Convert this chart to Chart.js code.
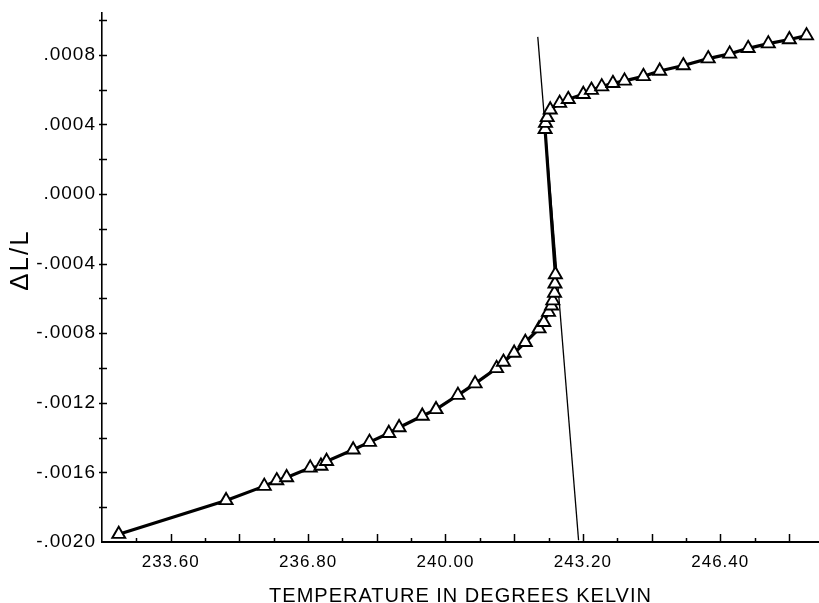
<!DOCTYPE html>
<html>
<head>
<meta charset="utf-8">
<script src="https://cdn.jsdelivr.net/npm/chart.js@4/dist/chart.umd.min.js"></script>
<style>
  html, body { margin: 0; padding: 0; background: #ffffff; }
  #wrap { width: 819px; height: 603px; }
</style>
</head>
<body>
<div id="wrap"><canvas id="c" width="819" height="603"></canvas></div>
<script>
// ---- data ----
const temperature = [
  232.39, 234.89, 235.78, 236.07, 236.30, 236.85, 237.10, 237.23, 237.85, 238.23,
  238.68, 238.92, 239.46, 239.78, 240.29, 240.69, 241.19, 241.35, 241.60, 241.86,
  242.18, 242.29, 242.40, 242.47, 242.50, 242.54, 242.55, 242.56,
  242.32, 242.33, 242.37, 242.44, 242.66, 242.86, 243.21, 243.40, 243.64, 243.90,
  244.17, 244.61, 244.99, 245.54, 246.12, 246.62, 247.05, 247.52, 248.01, 248.41
];
const deltaLoverL = [
  -0.001955, -0.001761, -0.001679, -0.001647, -0.001629, -0.001574, -0.001563, -0.001536, -0.001470, -0.001426,
  -0.001375, -0.001342, -0.001276, -0.001238, -0.001156, -0.001090, -0.001002, -0.000966, -0.000914, -0.000852,
  -0.000774, -0.000737, -0.000679, -0.000642, -0.000613, -0.000569, -0.000516, -0.000463,
  0.000372, 0.000407, 0.000440, 0.000484, 0.000522, 0.000544, 0.000573, 0.000597, 0.000617, 0.000636,
  0.000650, 0.000676, 0.000707, 0.000738, 0.000778, 0.000805, 0.000837, 0.000864, 0.000888, 0.000910
];
// thin guide line crossing the transition
const guideT = [242.15, 243.10];
const guideV = [0.000903, -0.00199];

// axis tick values
const xLabelTicks = [233.60, 236.80, 240.00, 243.20, 246.40];
const yLabelTicks = [-0.0020, -0.0016, -0.0012, -0.0008, -0.0004, 0.0000, 0.0004, 0.0008];
const xTitle = 'TEMPERATURE IN DEGREES KELVIN';
const yTitle = '\u0394L/L';

// ---- chart ----
const xMin = 232.0, xMax = 248.7, xStep = 0.8;
const yMin = -0.0020, yMax = 0.00104, yStep = 0.0002;

function near(a, b) { return Math.abs(a - b) < 1e-7; }

const tickMarks = {
  id: 'tickMarks',
  beforeDraw(chart) { chart.ctx.letterSpacing = '1px'; },
  afterDraw(chart) {
    const { ctx, scales: { x, y } } = chart;
    ctx.save();
    ctx.strokeStyle = '#000';
    ctx.lineWidth = 1.5;
    const yb = y.getPixelForValue(yMin);
    for (let v = xMin + xStep; v < xMax; v += xStep) {
      const k = Math.round((v - xMin) / xStep);
      const val = xMin + k * xStep;
      const px = Math.round(x.getPixelForValue(val)) + 0.5;
      const len = k % 2 === 0 ? 8 : 4;
      ctx.beginPath(); ctx.moveTo(px, yb); ctx.lineTo(px, yb - len); ctx.stroke();
    }
    const xl = x.getPixelForValue(xMin);
    for (let k = 1; yMin + k * yStep <= yMax + 1e-9; k++) {
      const val = yMin + k * yStep;
      const py = Math.round(y.getPixelForValue(val)) + 0.5;
      ctx.beginPath(); ctx.moveTo(xl - 3, py); ctx.lineTo(xl + 5, py); ctx.stroke();
    }
    // rotated y-axis title, placed where the reference has it
    ctx.letterSpacing = '2px';
    ctx.fillStyle = '#000';
    ctx.font = '26px "Liberation Sans"';
    ctx.translate(21, 260);
    ctx.rotate(-Math.PI / 2);
    ctx.textAlign = 'center';
    ctx.textBaseline = 'middle';
    ctx.fillText(yTitle, 0, 0);
    ctx.restore();
  }
};

new Chart(document.getElementById('c'), {
  type: 'scatter',
  data: {
    datasets: [
      {
        label: 'guide',
        data: guideT.map((t, i) => ({ x: t, y: guideV[i] })),
        showLine: true,
        borderColor: '#000',
        borderWidth: 1.3,
        pointRadius: 0,
        tension: 0,
        order: 2
      },
      {
        label: '\u0394L/L',
        data: temperature.map((t, i) => ({ x: t, y: deltaLoverL[i] })),
        showLine: true,
        borderColor: '#000',
        borderWidth: 3.2,
        tension: 0,
        pointStyle: 'triangle',
        pointRadius: 7.5,
        pointHoverRadius: 7.5,
        pointBackgroundColor: '#fff',
        pointBorderColor: '#000',
        pointBorderWidth: 1.9,
        order: 1
      }
    ]
  },
  options: {
    responsive: false,
    animation: false,
    devicePixelRatio: 1,
    layout: { autoPadding: false, padding: { top: 13, right: 0, bottom: 0, left: 0 } },
    plugins: { legend: { display: false }, tooltip: { enabled: false } },
    scales: {
      x: {
        type: 'linear',
        min: xMin, max: xMax,
        grid: { display: false, drawTicks: false },
        border: { display: true, color: '#000', width: 2 },
        ticks: {
          stepSize: xStep,
          autoSkip: false,
          maxRotation: 0,
          padding: 10,
          color: '#000',
          font: { family: 'Liberation Sans', size: 17 },
          callback: (v) => xLabelTicks.some(t => near(t, v)) ? Number(v).toFixed(2) : ''
        },
        title: {
          display: true,
          text: xTitle,
          color: '#000',
          font: { family: 'Liberation Sans', size: 20 },
          padding: { top: 0, bottom: -5 }
        },
        afterFit(scale) { scale.height = 61; scale.paddingLeft = 0; scale.paddingRight = 0; }
      },
      y: {
        type: 'linear',
        min: yMin, max: yMax,
        grid: { display: false, drawTicks: false },
        border: { display: true, color: '#000', width: 1.6 },
        ticks: {
          stepSize: yStep,
          autoSkip: false,
          padding: 6,
          color: '#000',
          font: { family: 'Liberation Sans', size: 19 },
          callback: (v) => {
            if (!yLabelTicks.some(t => near(t, v))) return '';
            let s = Math.abs(v).toFixed(4).replace(/^0/, '');
            return (v < -1e-9 ? '-' : '') + s;
          }
        },
        title: { display: false, text: yTitle },
        afterFit(scale) { scale.width = 102; scale.paddingTop = 0; scale.paddingBottom = 0; }
      }
    }
  },
  plugins: [tickMarks]
});
</script>
</body>
</html>
